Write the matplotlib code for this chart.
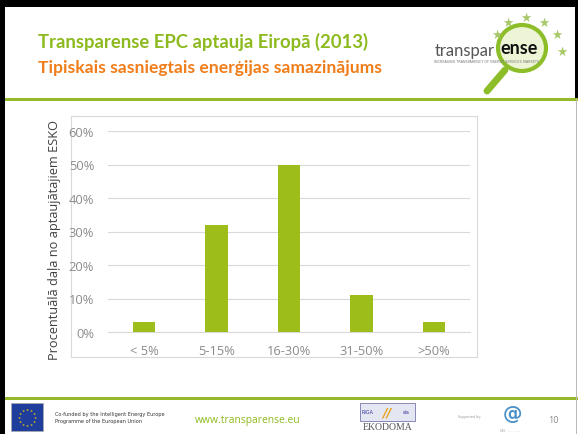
import matplotlib
matplotlib.use("Agg")
import matplotlib.pyplot as plt
from matplotlib.patches import Rectangle, Ellipse
from matplotlib.lines import Line2D
import matplotlib.ticker as mticker
import math

categories = ["< 5%", "5-15%", "16-30%", "31-50%", ">50%"]
values = [3, 32, 50, 11, 3]
yticks = [0, 10, 20, 30, 40, 50, 60]

title = "Transparense EPC aptauja Eiropā (2013)"
subtitle = "Tipiskais sasniegtais enerģijas samazinājums"
ylabel = "Procentuālā daļa no aptaujātajiem ESKO"
url = "www.transparense.eu"
page = "10"

W, H = 578, 435
fig = plt.figure(figsize=(W / 100, H / 100), dpi=100)
fig.patch.set_facecolor("white")


def fx(x):
    return x / W


def fy(y):
    return 1 - y / H


def rect(x0, y0, x1, y1, zorder=-5, **kw):
    fig.patches.append(Rectangle((fx(x0), fy(y1)), fx(x1) - fx(x0), fy(y0) - fy(y1),
                                 transform=fig.transFigure, zorder=zorder, **kw))


GREEN = "#9DBE1A"
LINE_GREEN = "#95B92A"
ORANGE = "#F07D1A"

# black slide borders
rect(0, 0, W, 8, facecolor="black", edgecolor="none")
rect(0, 0, 5, H, facecolor="black", edgecolor="none")
rect(575, 0, W, 100, facecolor="black", edgecolor="none")

# header
fig.text(fx(38), fy(42), title, color="#8DBA1E", fontsize=13.3, fontweight="bold",
         family="Lato", va="center", ha="left")
fig.text(fx(38), fy(68), subtitle, color=ORANGE, fontsize=12.6, fontweight="bold",
         family="Lato", va="center", ha="left")
rect(5, 99, W, 101.5, facecolor=LINE_GREEN, edgecolor="none")

# logo (approximation)
fig.text(fx(435), fy(51), "transpar", color="#555555", fontsize=12, family="Lato",
         va="center", ha="left")
fig.patches.append(Ellipse((fx(522), fy(49)), 48 / W, 46 / H, transform=fig.transFigure,
                           facecolor="#EEF5D6", edgecolor="#8DBE2A", lw=3, zorder=1))
fig.lines.append(Line2D([fx(505), fx(487)], [fy(71), fy(92)], transform=fig.transFigure,
                        color="#8DBE2A", lw=5, solid_capstyle="round"))
fig.text(fx(500), fy(49), "ense", color="#111111", fontsize=13, fontweight="bold",
         family="Lato", va="center", ha="left", zorder=3)
fig.text(fx(434), fy(62), "INCREASING TRANSPARENCY OF ENERGY SERVICES MARKETS",
         color="#777777", fontsize=2.4, family="DejaVu Sans", va="center", ha="left", zorder=3)
for sx, sy in [(497, 35), (508, 23), (526, 18), (544, 23), (557, 35), (562, 52)]:
    fig.text(fx(sx), fy(sy), "★", color="#A8C86A", fontsize=9, ha="center", va="center",
             family="DejaVu Sans")

# chart outer box
rect(71, 117, 477, 358, facecolor="white", edgecolor="#D9D9D9", lw=0.8)

# chart axes
ax = fig.add_axes([fx(108), fy(333), fx(470) - fx(108), fy(132) - fy(333)])
ax.set_zorder(2)
ax.set_facecolor("none")
x = range(len(categories))
ax.bar(x, values, width=0.31, color=GREEN, zorder=3)
ax.set_xlim(-0.5, len(categories) - 0.5)
ax.set_ylim(0, 60)
ax.set_yticks(yticks)
ax.yaxis.set_major_formatter(mticker.FuncFormatter(lambda v, p: f"{int(v)}%"))
ax.set_xticks(list(x))
ax.set_xticklabels(categories)
ax.grid(axis="y", color="#D9D9D9", lw=0.8, zorder=0)
for s in ["top", "right", "left"]:
    ax.spines[s].set_visible(False)
ax.spines["bottom"].set_color("#D9D9D9")
ax.spines["bottom"].set_linewidth(0.8)
ax.tick_params(axis="both", length=0, colors="#8C8C8C", labelsize=9.3)
ax.tick_params(axis="y", pad=10)
ax.tick_params(axis="x", pad=9)
for lab in ax.get_xticklabels() + ax.get_yticklabels():
    lab.set_family("Open Sans")
fig.text(fx(55), fy(240), ylabel, rotation=90, color="#404040", fontsize=9.2,
         family="Open Sans", va="center", ha="center")

# footer
rect(5, 398, W, 400.5, facecolor=LINE_GREEN, edgecolor="none")
rect(11, 404, 43, 432, facecolor="#1F3E9C", edgecolor="#AAAAAA", lw=0.5)
for k in range(12):
    a = 2 * math.pi * k / 12
    fig.text(fx(27 + 8 * math.cos(a)), fy(418 + 8 * math.sin(a)), "★", color="#F5D300",
             fontsize=2.5, ha="center", va="center", family="DejaVu Sans")
fig.text(fx(55), fy(418), "Co-funded by the Intelligent Energy Europe\nProgramme of the European Union",
         color="#333333", fontsize=3.6, family="DejaVu Sans", va="center", ha="left",
         linespacing=1.3)
fig.text(fx(248), fy(421), url, color="#8DBA1E", fontsize=7.4, family="Open Sans",
         va="center", ha="center")
# EKODOMA logo approx
rect(360, 404, 415, 422, zorder=1, facecolor="#E4E6F2", edgecolor="#7777AA", lw=0.6)
fig.text(fx(362), fy(413), "RIGA", color="#333399", fontsize=3.5, va="center", ha="left")
fig.text(fx(387), fy(413), "//", color="#E8A010", fontsize=9, fontweight="bold",
         va="center", ha="center", style="italic")
fig.text(fx(403), fy(413), "sia", color="#333399", fontsize=3.5, va="center", ha="left")
fig.text(fx(388), fy(428), "EKODOMA", color="#555555", fontsize=7, family="Liberation Serif",
         va="center", ha="center")
fig.text(fx(470), fy(417), "Supported by:", color="#999999", fontsize=2.4, va="center", ha="center")
fig.text(fx(512), fy(415), "@", color="#4A90C8", fontsize=14, fontweight="bold",
         va="center", ha="center")
fig.text(fx(511), fy(431), "FAS  ......  ......", color="#AAAAAA", fontsize=2.2,
         va="center", ha="center")
fig.text(fx(553), fy(421), page, color="#888888", fontsize=6.5, family="Open Sans",
         va="center", ha="center")
rect(576, 100, 577.2, H, facecolor="#BBBBBB", edgecolor="none")

fig.savefig("out.png", dpi=100)
